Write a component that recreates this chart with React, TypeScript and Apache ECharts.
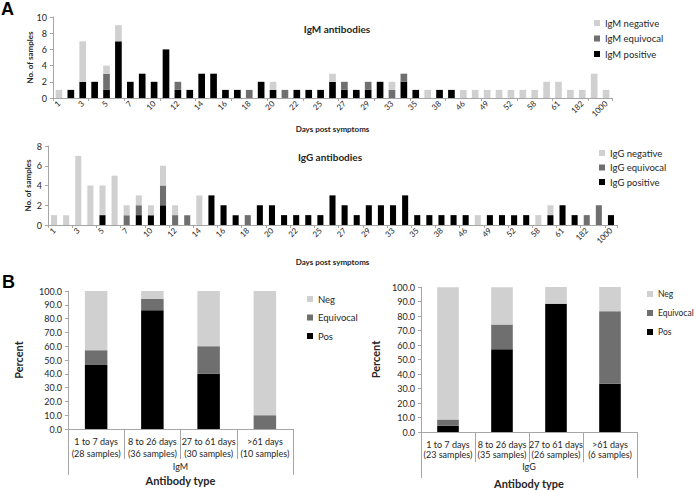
import React, { useEffect, useRef } from "react";
import * as echarts from "echarts";

// ---------- Panel A data ----------
const days = ["1","2","3","4","5","6","7","8","10","11","12","13","14","15","16","17","18","19","20","21","22","24","25","26","27","28","29","31","33","34","35","36","38","42","46","47","49","50","52","55","58","60","61","90","182","365","1000"];

const igmPositive = [0,1,2,2,1,7,2,3,2,6,1,1,3,3,1,1,0,2,1,0,1,1,1,2,1,1,1,2,0,2,1,0,1,1,0,0,0,0,0,0,0,0,0,0,0,0,0];
const igmEquivocal = [0,0,0,0,2,0,0,0,0,0,1,0,0,0,0,0,1,0,0,1,0,0,0,0,1,0,1,0,1,1,0,0,0,0,0,0,0,0,0,0,0,0,0,0,0,0,0];
const igmNegative = [1,0,5,0,1,2,0,0,0,0,0,0,0,0,0,0,0,0,1,0,0,0,0,1,0,0,0,0,1,0,0,1,0,0,1,1,1,1,1,1,1,2,2,1,1,3,1];

const iggPositive = [0,0,0,0,1,0,0,1,1,2,0,0,0,3,2,1,0,2,2,1,1,1,1,3,2,1,2,2,2,3,1,1,1,1,1,0,1,1,1,1,0,1,2,1,0,0,1];
const iggEquivocal = [0,0,0,0,0,0,1,1,0,2,1,1,0,0,0,0,1,0,0,0,0,0,0,0,0,0,0,0,0,0,0,0,0,0,0,0,0,0,0,0,0,0,0,0,1,2,0];
const iggNegative = [1,1,7,4,3,5,1,1,1,2,1,0,3,0,0,0,0,0,0,0,0,0,0,0,0,0,0,0,0,0,0,0,0,0,0,1,0,0,0,0,1,1,0,0,0,0,0];

// ---------- Panel B data ----------
const igmGroups = ["1 to 7 days\n(28 samples)", "8 to 26 days\n(36 samples)", "27 to 61 days\n(30 samples)", ">61 days\n(10 samples)"];
const igmPosPct = [46.4, 86.1, 40.0, 0];
const igmEqPct = [10.7, 8.3, 20.0, 10.0];
const igmNegPct = [42.9, 5.6, 40.0, 90.0];

const iggGroups = ["1 to 7 days\n(23 samples)", "8 to 26 days\n(35 samples)", "27 to 61 days\n(26 samples)", ">61 days\n(6 samples)"];
const iggPosPct = [4.3, 57.1, 88.5, 33.3];
const iggEqPct = [4.3, 17.1, 0, 50.0];
const iggNegPct = [91.3, 25.7, 11.5, 16.7];

const FONT = "Lato, 'Liberation Sans', sans-serif";
const NEG = "#d0d0d0";
const EQ = "#6f6f6f";
const POS = "#000000";
const AXIS = "#a6a6a6";
const TXT = "#262626";

export default function App() {
  const ref = useRef<HTMLDivElement>(null);
  useEffect(() => {
    const chart = echarts.init(ref.current!, null, { renderer: "svg" });

    const stackSeries = (names: string[], data: number[][], gi: number, width: string) =>
      [POS, EQ, NEG].map((c, k) => ({
        type: "bar",
        name: names[k],
        xAxisIndex: gi,
        yAxisIndex: gi,
        stack: "s" + gi,
        barWidth: width,
        itemStyle: { color: c },
        data: data[k],
      }));

    const topX = (gi: number, tickInt: number, nameGap: number) => ({
      type: "category",
      gridIndex: gi,
      data: days,
      axisLine: { lineStyle: { color: AXIS } },
      axisTick: { show: true, interval: tickInt, length: 3, lineStyle: { color: AXIS } },
      axisLabel: { interval: 1, rotate: 45, fontSize: 8, color: TXT, fontFamily: FONT, margin: 4 },
      name: "Days post symptoms",
      nameLocation: "middle",
      nameGap,
      nameMoveOverlap: false,
      nameTextStyle: { fontSize: 8, fontWeight: "bold", color: TXT, fontFamily: FONT },
    });

    const topY = (gi: number, max: number, nameGap: number) => ({
      type: "value",
      gridIndex: gi,
      min: 0,
      max,
      interval: 2,
      splitLine: { show: false },
      axisLine: { show: true, lineStyle: { color: AXIS } },
      axisTick: { show: true, length: 3, lineStyle: { color: AXIS } },
      axisLabel: { fontSize: 9, color: TXT, fontFamily: FONT, margin: 6 },
      name: "No. of samples",
      nameLocation: "middle",
      nameGap,
      nameMoveOverlap: false,
      nameTextStyle: { fontSize: 8, fontWeight: "bold", color: TXT, fontFamily: FONT },
    });

    const bX = (gi: number, data: string[], margin: number, lh: number) => ({
      type: "category",
      gridIndex: gi,
      data,
      axisLine: { lineStyle: { color: AXIS } },
      axisTick: { show: true, interval: 0, length: 30, lineStyle: { color: AXIS } },
      axisLabel: { interval: 0, fontSize: 9, lineHeight: lh, color: TXT, fontFamily: FONT, margin },
    });

    const bX2 = (gi: number, label: string, margin: number) => ({
      type: "category",
      gridIndex: gi,
      data: [label],
      position: "bottom",
      axisLine: { show: true, lineStyle: { color: AXIS, opacity: 0 } },
      axisTick: { show: true, interval: 0, length: 46, lineStyle: { color: AXIS } },
      axisLabel: { interval: 0, fontSize: 9, color: TXT, fontFamily: FONT, margin },
      name: "Antibody type",
      nameLocation: "middle",
      nameGap: 46,
      nameMoveOverlap: false,
      nameTextStyle: { fontSize: 11, fontWeight: "bold", color: TXT, fontFamily: FONT },
    });

    const bY = (gi: number, nameGap: number) => ({
      type: "value",
      gridIndex: gi,
      min: 0,
      max: 100,
      interval: 10,
      splitLine: { show: false },
      axisLine: { show: true, lineStyle: { color: AXIS } },
      axisTick: { show: true, length: 3, lineStyle: { color: AXIS } },
      axisLabel: { fontSize: 9, color: TXT, fontFamily: FONT, margin: 6, formatter: (v: number) => v.toFixed(1) },
      name: "Percent",
      nameLocation: "middle",
      nameGap,
      nameMoveOverlap: false,
      nameTextStyle: { fontSize: 11, fontWeight: "bold", color: TXT, fontFamily: FONT },
    });

    const legend = (data: string[], left: number, top: number, gap: number, fs: number) => ({
      data,
      orient: "vertical",
      left,
      top,
      padding: 0,
      icon: "rect",
      itemWidth: 6,
      itemHeight: 6,
      itemGap: gap,
      selectedMode: false,
      textStyle: { fontSize: fs, lineHeight: 12, color: TXT, fontFamily: FONT },
    });

    const option: any = {
      animation: false,
      backgroundColor: "#ffffff",
      textStyle: { fontFamily: FONT },
      grid: [
        { left: 53, top: 17, width: 559, height: 81 },
        { left: 48, top: 146, width: 569, height: 79 },
        { left: 68, top: 291, width: 225, height: 138 },
        { left: 421, top: 287, width: 216, height: 146 },
      ],
      xAxis: [
        topX(0, 2, 27),
        topX(1, 1, 33),
        bX(2, igmGroups, 6, 12),
        bX(3, iggGroups, 7, 10.5),
        bX2(2, "IgM", 33),
        bX2(3, "IgG", 30),
      ],
      yAxis: [topY(0, 10, 19), topY(1, 8, 16), bY(2, 44), bY(3, 40)],
      legend: [
        legend(["IgM negative", "IgM equivocal", "IgM positive"], 594, 17, 3.5, 9.5),
        legend(["IgG negative", "IgG equivocal", "IgG positive"], 599, 147, 2.5, 9.5),
        legend(["Neg", "Equivocal", "Pos"], 307, 293, 6.5, 9.5),
        legend(["Neg", "Equivocal", "Pos"], 647, 288, 7, 8.5),
      ],
      graphic: [
        { type: "text", left: 1, top: 0, style: { text: "A", fontSize: 18, fontWeight: "bold", fill: "#000", fontFamily: "'Liberation Sans', Arial, sans-serif" } },
        { type: "text", left: 2, top: 273, style: { text: "B", fontSize: 18, fontWeight: "bold", fill: "#000", fontFamily: "'Liberation Sans', Arial, sans-serif" } },
        { type: "text", x: 337, y: 29, style: { text: "IgM antibodies", fontSize: 10, fontWeight: "bold", fill: TXT, fontFamily: FONT, align: "center", verticalAlign: "middle" } },
        { type: "text", x: 330, y: 157, style: { text: "IgG antibodies", fontSize: 10, fontWeight: "bold", fill: TXT, fontFamily: FONT, align: "center", verticalAlign: "middle" } },
      ],
      series: [
        ...stackSeries(["IgM positive", "IgM equivocal", "IgM negative"], [igmPositive, igmEquivocal, igmNegative], 0, "56%"),
        ...stackSeries(["IgG positive", "IgG equivocal", "IgG negative"], [iggPositive, iggEquivocal, iggNegative], 1, "50%"),
        ...stackSeries(["Pos", "Equivocal", "Neg"], [igmPosPct, igmEqPct, igmNegPct], 2, "40%"),
        ...stackSeries(["Pos", "Equivocal", "Neg"], [iggPosPct, iggEqPct, iggNegPct], 3, "40%"),
      ],
    };
    chart.setOption(option);
    return () => chart.dispose();
  }, []);
  return <div ref={ref} style={{ position: "absolute", left: 0, top: 0, width: 696, height: 490 }} />;
}
